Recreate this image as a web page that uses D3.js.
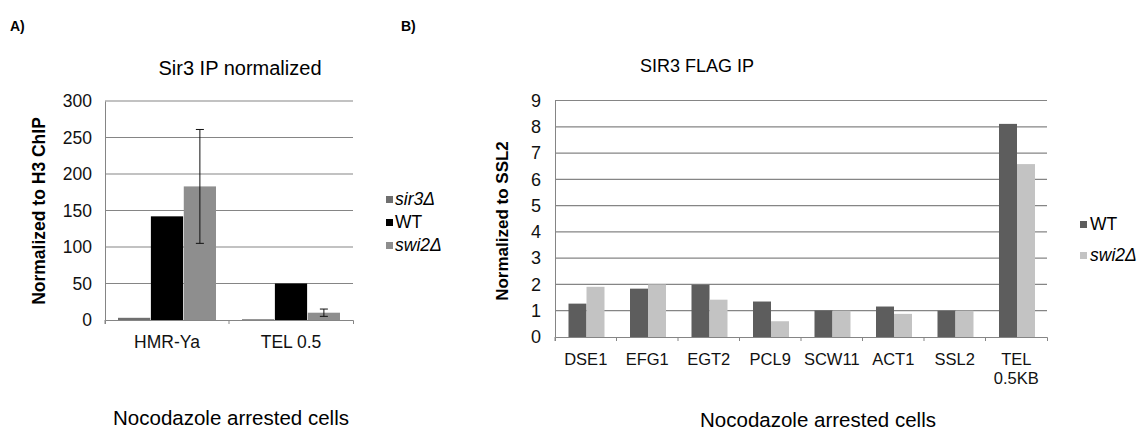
<html>
<head>
<script src="https://cdn.jsdelivr.net/npm/d3@7"></script>
<style>
  body { margin: 0; background: #fff; }
  text { font-family: "Liberation Sans", Arial, sans-serif; }
</style>
</head>
<body>
<div id="container1"></div>

<script>

// panel A data
const catsA = ["HMR-Ya", "TEL 0.5"];
const seriesA = ["sir3Δ", "WT", "swi2Δ"];
const sir3A = [3, 1];
const wtA = [142, 50];
const swi2A = [183, 10];
const swi2ErrA = [78, 5];
const ticksA = [0, 50, 100, 150, 200, 250, 300];

// panel B data
const catsB = ["DSE1", "EFG1", "EGT2", "PCL9", "SCW11", "ACT1", "SSL2", "TEL 0.5KB"];
const seriesB = ["WT", "swi2Δ"];
const wtB = [1.27, 1.84, 1.99, 1.35, 1.01, 1.16, 1.0, 8.11];
const swi2B = [1.91, 2.0, 1.42, 0.6, 1.0, 0.88, 1.0, 6.58];
const ticksB = [0, 1, 2, 3, 4, 5, 6, 7, 8, 9];

const colorsA = ["#6f6f6f", "#000000", "#8e8e8e"];
const colorsB = ["#5d5d5d", "#c3c3c3"];
const gridColor = "#858585";

const svg = d3.select("#container1")
  .append("svg")
    .attr("width", 1144)
    .attr("height", 432);

// ---------- panel A ----------
const gA = svg.append("g");
const xA = d3.scaleBand().domain(catsA).range([105, 353]);
const yA = d3.scaleLinear().domain([0, 300]).range([320, 101]);
const subA = d3.scaleBand().domain(seriesA).range([13, 111]).paddingInner(0.02);

gA.selectAll(".grid")
  .data(ticksA.slice(1))
  .join("line")
    .attr("x1", 105).attr("x2", 353)
    .attr("y1", d => yA(d)).attr("y2", d => yA(d))
    .attr("stroke", gridColor).attr("stroke-width", 1.2);

const axisA = gA.append("g")
  .attr("transform", "translate(105,0)")
  .call(d3.axisLeft(yA).tickValues(ticksA).tickSize(0).tickPadding(13));
axisA.select(".domain").attr("stroke", gridColor);
axisA.selectAll("text").style("font-size", "17.5px").attr("fill", "#111");

const xaxA = gA.append("g")
  .attr("transform", "translate(0,320)")
  .call(d3.axisBottom(xA).tickSizeInner(4).tickSizeOuter(4).tickPadding(12));
xaxA.select(".domain").attr("stroke", gridColor);
xaxA.selectAll("line").attr("stroke", gridColor).attr("transform", d => `translate(${-xA.bandwidth()/2},0)`);
xaxA.selectAll("text").style("font-size", "17.5px").attr("fill", "#111");

const valsA = [sir3A, wtA, swi2A];
seriesA.forEach((s, si) => {
  gA.selectAll(".barA" + si)
    .data(catsA)
    .join("rect")
      .attr("x", d => xA(d) + subA(s))
      .attr("y", (d, i) => yA(valsA[si][i]))
      .attr("width", subA.bandwidth())
      .attr("height", (d, i) => 320 - yA(valsA[si][i]))
      .attr("fill", colorsA[si]);
});

// error bars on swi2Δ
catsA.forEach((c, i) => {
  const cx = xA(c) + subA("swi2Δ") + subA.bandwidth() / 2;
  const lo = yA(swi2A[i] - swi2ErrA[i]), hi = yA(swi2A[i] + swi2ErrA[i]);
  gA.append("line").attr("x1", cx).attr("x2", cx).attr("y1", lo).attr("y2", hi).attr("stroke", "#111");
  gA.append("line").attr("x1", cx - 4).attr("x2", cx + 4).attr("y1", lo).attr("y2", lo).attr("stroke", "#111");
  gA.append("line").attr("x1", cx - 4).attr("x2", cx + 4).attr("y1", hi).attr("y2", hi).attr("stroke", "#111");
});

gA.append("text").attr("x", 10).attr("y", 31).text("A)")
  .style("font-size", "14px").style("font-weight", "bold");
gA.append("text").attr("x", 240).attr("y", 75).attr("text-anchor", "middle")
  .text("Sir3 IP normalized").style("font-size", "20px");
gA.append("text").attr("transform", "translate(45,211) rotate(-90)").attr("text-anchor", "middle")
  .text("Normalized to H3 ChIP").style("font-size", "17.5px").style("font-weight", "bold");
gA.append("text").attr("x", 231).attr("y", 425).attr("text-anchor", "middle")
  .text("Nocodazole arrested cells").style("font-size", "20.5px");

seriesA.forEach((s, i) => {
  const ly = 200 + i * 23;
  gA.append("rect").attr("x", 386).attr("y", ly - 4).attr("width", 7).attr("height", 7).attr("fill", colorsA[i]);
  gA.append("text").attr("x", 395).attr("y", ly).attr("dominant-baseline", "middle")
    .text(s).style("font-size", "17.5px").style("font-style", s === "WT" ? "normal" : "italic");
});

// ---------- panel B ----------
const gB = svg.append("g");
const xB = d3.scaleBand().domain(catsB).range([555, 1047]);
const yB = d3.scaleLinear().domain([0, 9]).range([337, 100.5]);
const subB = d3.scaleBand().domain(seriesB).range([13.5, 49.5]);

gB.selectAll(".grid")
  .data(ticksB.slice(1))
  .join("line")
    .attr("x1", 555).attr("x2", 1047)
    .attr("y1", d => yB(d)).attr("y2", d => yB(d))
    .attr("stroke", gridColor).attr("stroke-width", 1.2);

const axisB = gB.append("g")
  .attr("transform", "translate(555,0)")
  .call(d3.axisLeft(yB).tickValues(ticksB).tickSize(0).tickPadding(14));
axisB.select(".domain").attr("stroke", gridColor);
axisB.selectAll("text").style("font-size", "18px").attr("fill", "#111");

const xaxB = gB.append("g")
  .attr("transform", "translate(0,337)")
  .call(d3.axisBottom(xB).tickSizeInner(4).tickSizeOuter(4).tickPadding(12));
xaxB.select(".domain").attr("stroke", gridColor);
xaxB.selectAll("line").attr("stroke", gridColor).attr("transform", d => `translate(${-xB.bandwidth()/2},0)`);
xaxB.selectAll("text").style("font-size", "16.5px").attr("fill", "#111")
  .each(function(d) {
    const parts = d.split(" ");
    if (parts.length > 1) {
      const t = d3.select(this).text(null);
      parts.forEach((p, i) => {
        t.append("tspan").attr("x", 0).attr("dy", i === 0 ? "0.71em" : "1.15em").text(p);
      });
      t.attr("dy", null);
    }
  });

const valsB = [wtB, swi2B];
seriesB.forEach((s, si) => {
  gB.selectAll(".barB" + si)
    .data(catsB)
    .join("rect")
      .attr("x", d => xB(d) + subB(s))
      .attr("y", (d, i) => yB(valsB[si][i]))
      .attr("width", subB.bandwidth())
      .attr("height", (d, i) => 337 - yB(valsB[si][i]))
      .attr("fill", colorsB[si]);
});

gB.append("text").attr("x", 401).attr("y", 31).text("B)")
  .style("font-size", "14px").style("font-weight", "bold");
gB.append("text").attr("x", 697).attr("y", 72).attr("text-anchor", "middle")
  .text("SIR3 FLAG IP").style("font-size", "18px");
gB.append("text").attr("transform", "translate(508,221) rotate(-90)").attr("text-anchor", "middle")
  .text("Normalized to SSL2").style("font-size", "17px").style("font-weight", "bold");
gB.append("text").attr("x", 818).attr("y", 427).attr("text-anchor", "middle")
  .text("Nocodazole arrested cells").style("font-size", "20.5px");

seriesB.forEach((s, i) => {
  const ly = 225 + i * 31;
  gB.append("rect").attr("x", 1080).attr("y", ly - 4).attr("width", 7).attr("height", 7).attr("fill", colorsB[i]);
  gB.append("text").attr("x", 1090).attr("y", ly).attr("dominant-baseline", "middle")
    .text(s).style("font-size", "17.5px").style("font-style", s === "WT" ? "normal" : "italic");
});

</script>
</body>
</html>
